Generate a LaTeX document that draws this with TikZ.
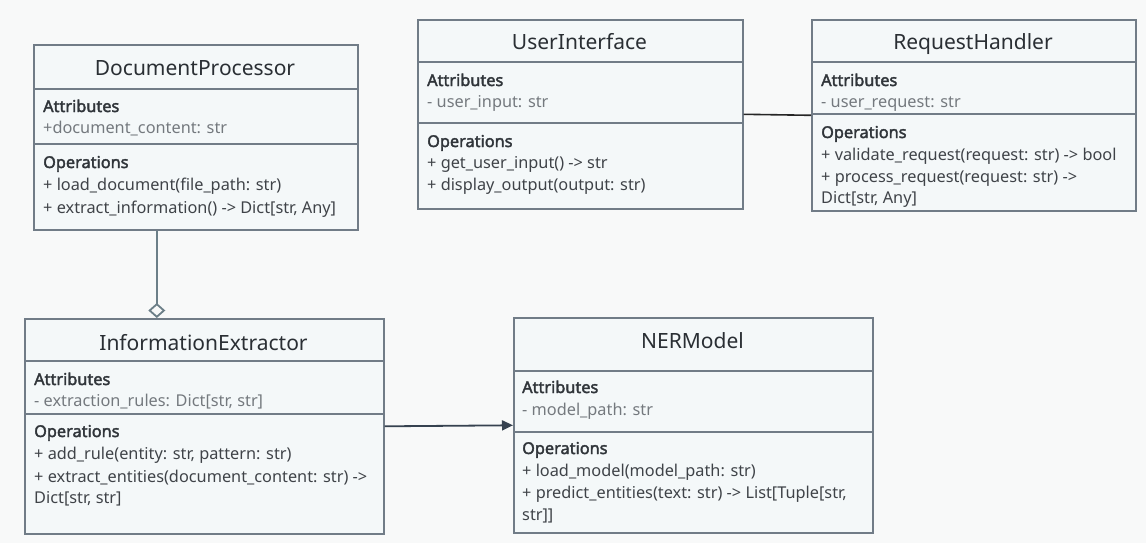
\documentclass[tikz,border=0pt]{standalone}
\usepackage{fontspec}
\setmainfont{Noto Sans}[AutoFakeBold=2.2]
\usetikzlibrary{arrows.meta}
\definecolor{bgc}{HTML}{F8F9F9}
\definecolor{boxfill}{HTML}{F4F8F9}
\definecolor{boxline}{HTML}{717C87}
\definecolor{titlec}{HTML}{2A2F34}
\definecolor{headc}{HTML}{30353A}
\definecolor{attrc}{HTML}{74797E}
\definecolor{opc}{HTML}{3F4348}
\definecolor{aggc}{HTML}{6C7F88}
\definecolor{arrc}{HTML}{364250}
\tikzset{
  classbox/.style={draw=boxline, line width=1.6pt, fill=boxfill, rectangle, anchor=north west, inner sep=0pt},
  divider/.style={draw=boxline, line width=1.6pt},
  ctitle/.style={anchor=base, font=\fontsize{21}{24}\selectfont, text=titlec, inner sep=0pt},
  chead/.style={anchor=base west, font=\fontsize{16.3}{19}\selectfont\bfseries, text=headc, inner sep=0pt},
  cattr/.style={anchor=base west, font=\fontsize{16.3}{19}\selectfont, text=attrc, inner sep=0pt},
  cop/.style={anchor=base west, font=\fontsize{16.3}{19}\selectfont, text=opc, inner sep=0pt},
}
\begin{document}
\begin{tikzpicture}[x=1pt,y=-1pt]
\fill[bgc] (0,0) rectangle (1146,543);
\useasboundingbox (0,0) rectangle (1146,543);

% DocumentProcessor
\node[classbox, minimum width=324pt, minimum height=185pt] (dp) at (33,44) {};
\draw[divider] (dp.west |- 0,89) -- (dp.east |- 0,89);
\draw[divider] (dp.west |- 0,144) -- (dp.east |- 0,144);
\node[ctitle] (dpt) at (195,76) {DocumentProcessor};
\node[chead] (dpa) at (43,112) {Attributes};
\node[cattr] (dpa1) at (43,133) {+document\_content: str};
\node[chead] (dpo) at (43,168) {Operations};
\node[cop] (dpo1) at (43,190) {+ load\_document(file\_path: str)};
\node[cop] (dpo2) at (43,213) {+ extract\_information() -> Dict[str, Any]};

% UserInterface
\node[classbox, minimum width=325pt, minimum height=189pt] (ui) at (417,19) {};
\draw[divider] (ui.west |- 0,62) -- (ui.east |- 0,62);
\draw[divider] (ui.west |- 0,123) -- (ui.east |- 0,123);
\node[ctitle] (uit) at (579.5,50) {UserInterface};
\node[chead] (uia) at (427,86) {Attributes};
\node[cattr] (uia1) at (427,107) {- user\_input: str};
\node[chead] (uio) at (427,147) {Operations};
\node[cop] (uio1) at (427,168) {+ get\_user\_input() -> str};
\node[cop] (uio2) at (427,190) {+ display\_output(output: str)};

% RequestHandler
\node[classbox, minimum width=324pt, minimum height=191pt] (rh) at (811,19) {};
\draw[divider] (rh.west |- 0,62) -- (rh.east |- 0,62);
\draw[divider] (rh.west |- 0,114) -- (rh.east |- 0,114);
\node[ctitle] (rht) at (973,50) {RequestHandler};
\node[chead] (rha) at (821,86) {Attributes};
\node[cattr] (rha1) at (821,107) {- user\_request: str};
\node[chead] (rho) at (821,138) {Operations};
\node[cop] (rho1) at (821,160) {+ validate\_request(request: str) -> bool};
\node[cop] (rho2) at (821,182) {+ process\_request(request: str) ->};
\node[cop] (rho3) at (821,203) {Dict[str, Any]};

% InformationExtractor
\node[classbox, minimum width=359pt, minimum height=215pt] (ie) at (24,318) {};
\draw[divider] (ie.west |- 0,361) -- (ie.east |- 0,361);
\draw[divider] (ie.west |- 0,414) -- (ie.east |- 0,414);
\node[ctitle] (iet) at (203.5,350) {InformationExtractor};
\node[chead] (iea) at (34,385) {Attributes};
\node[cattr] (iea1) at (34,406) {- extraction\_rules: Dict[str, str]};
\node[chead] (ieo) at (34,437) {Operations};
\node[cop] (ieo1) at (34,459) {+ add\_rule(entity: str, pattern: str)};
\node[cop] (ieo2) at (34,482) {+ extract\_entities(document\_content: str) ->};
\node[cop] (ieo3) at (34,503) {Dict[str, str]};

% NERModel
\node[classbox, minimum width=359pt, minimum height=215pt] (ner) at (513,317) {};
\draw[divider] (ner.west |- 0,371) -- (ner.east |- 0,371);
\draw[divider] (ner.west |- 0,432) -- (ner.east |- 0,432);
\node[ctitle] (nert) at (692.5,348) {NERModel};
\node[chead] (nera) at (522,393) {Attributes};
\node[cattr] (nera1) at (522,415) {- model\_path: str};
\node[chead] (nero) at (522,454) {Operations};
\node[cop] (nero1) at (522,476) {+ load\_model(model\_path: str)};
\node[cop] (nero2) at (522,498) {+ predict\_entities(text: str) -> List[Tuple[str,};
\node[cop] (nero3) at (522,520) {str]]};

% connectors
\draw[aggc, line width=2.6pt, -{Diamond[open, length=15pt, width=17pt, line width=1.8pt]}]
  ([xshift=-39pt]dp.south) -- ([xshift=-47.5pt]ie.north);
\draw[black!85, line width=1.6pt] (ui.east) -- (rh.west);
\draw[arrc, line width=1.8pt, -{Triangle[length=11pt, width=10pt]}] (ie.east) -- (ner.west);
\end{tikzpicture}
\end{document}
